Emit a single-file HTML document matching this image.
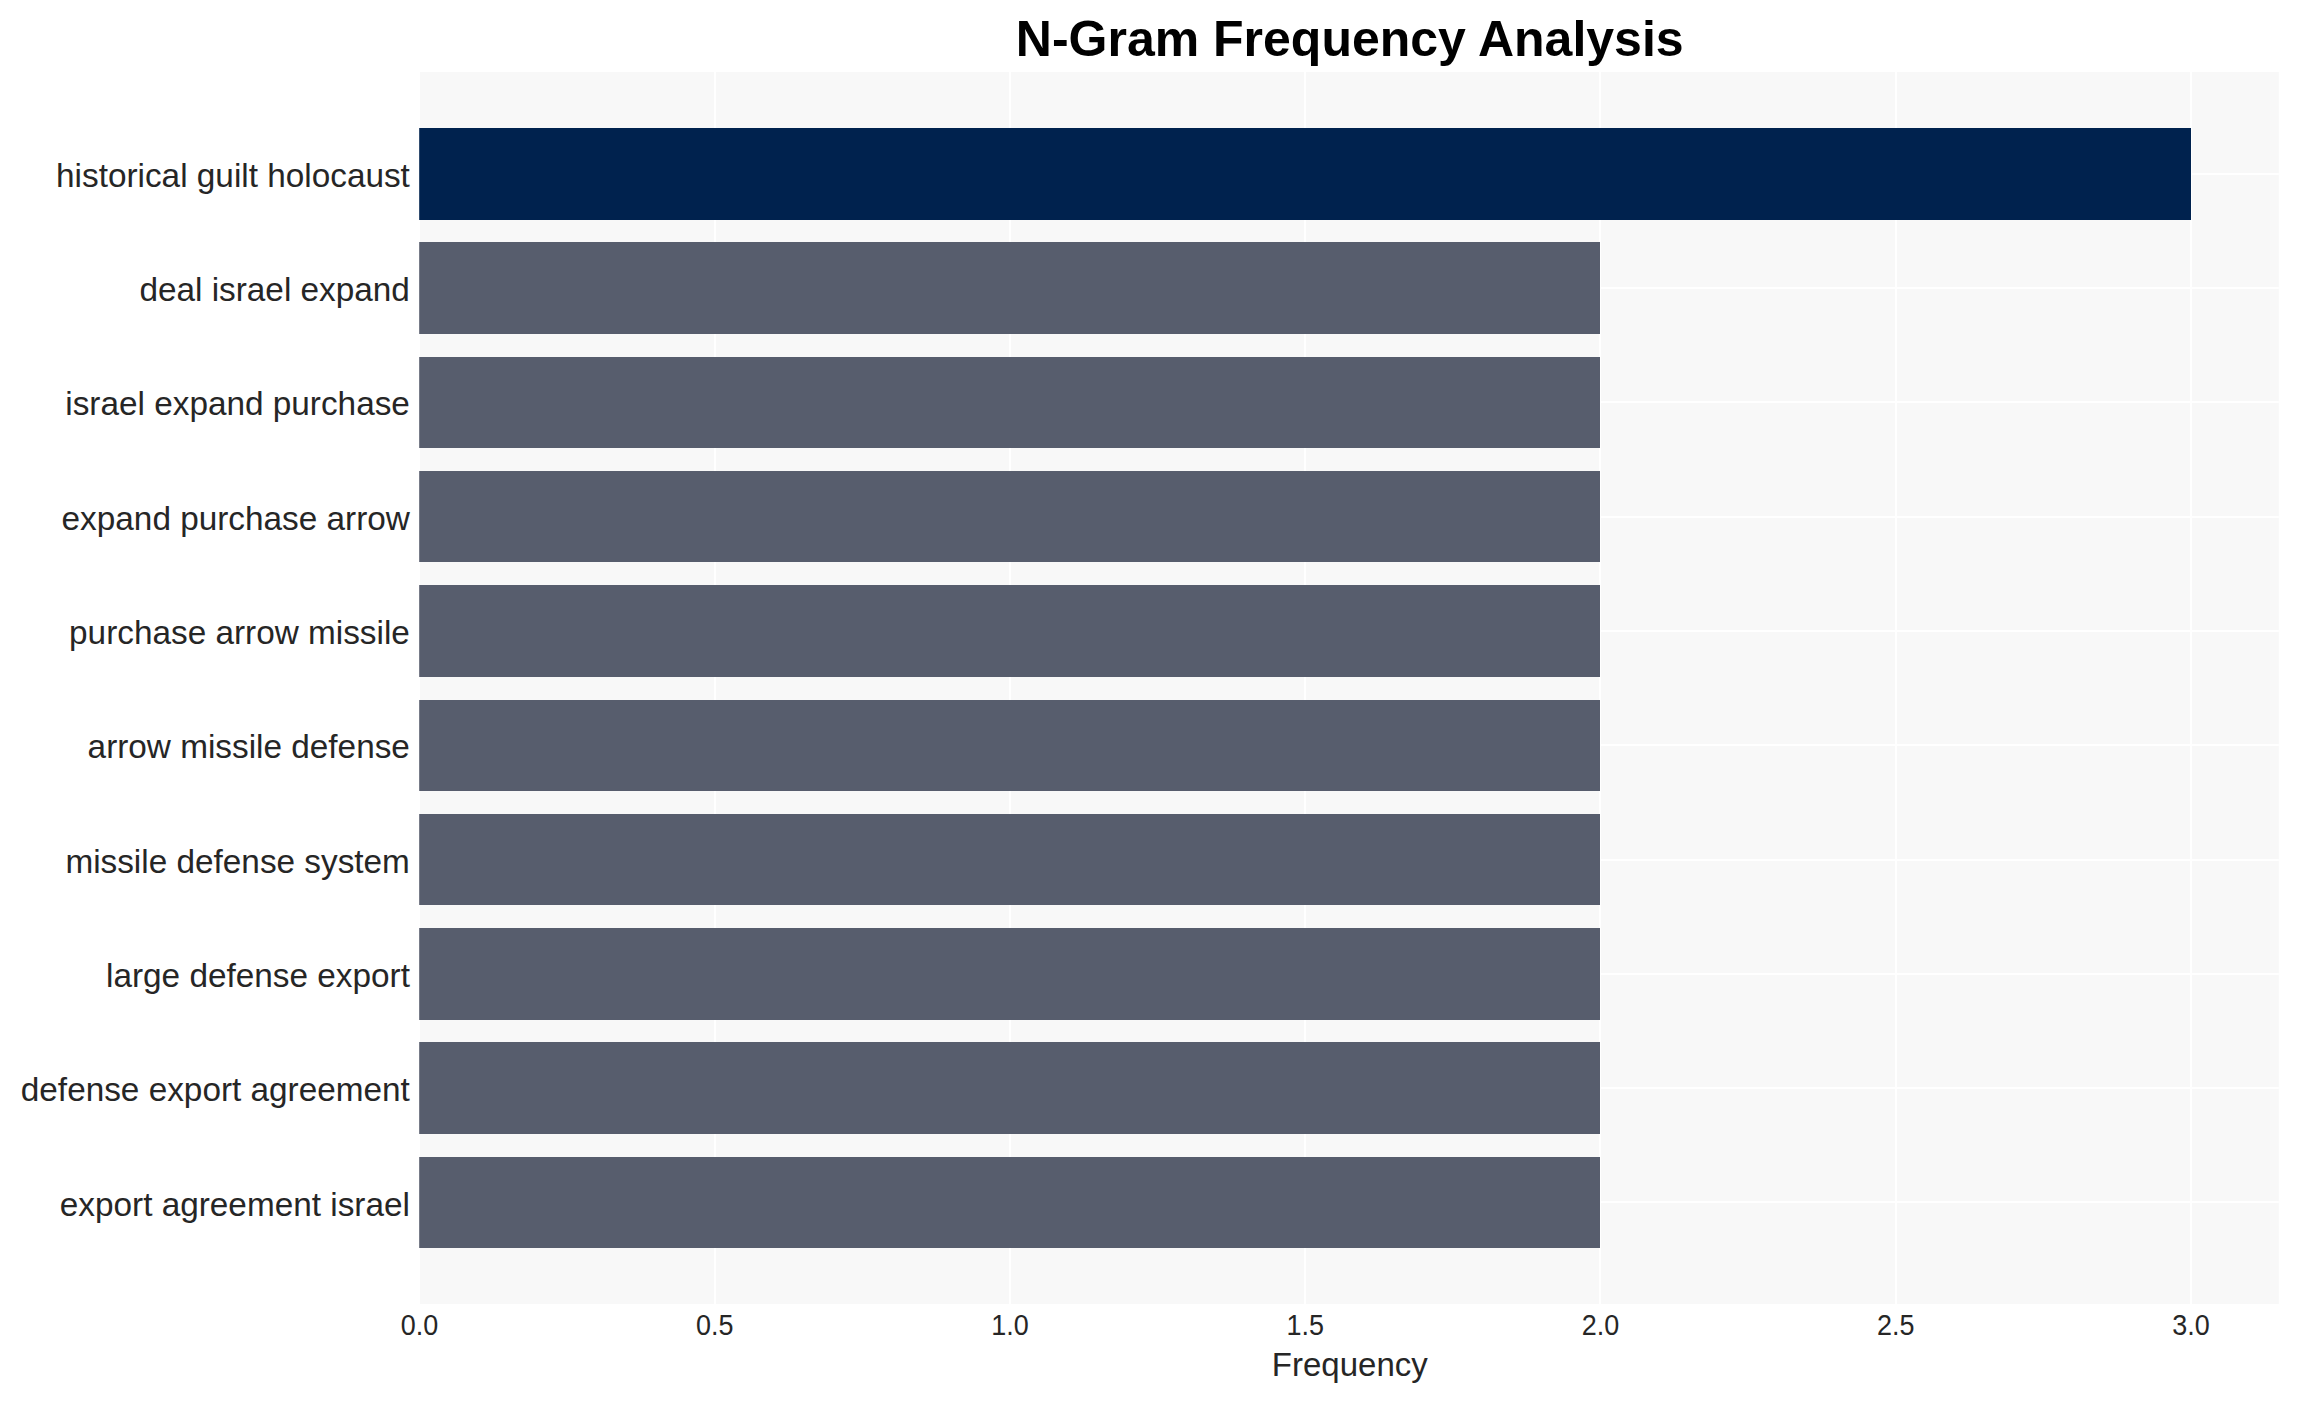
<!DOCTYPE html>
<html lang="en"><head><meta charset="utf-8"><title>N-Gram Frequency Analysis</title>
<style>
html,body{margin:0;padding:0;background:#ffffff;width:2299px;height:1402px;overflow:hidden}
svg{display:block}
text{font-family:"Liberation Sans", sans-serif;}
.yt{font-size:33.33px;fill:#262626;text-anchor:end}
.xt{font-size:27.78px;fill:#262626;text-anchor:middle}
.xl{font-size:33.33px;fill:#262626;text-anchor:middle}
.ti{font-size:50px;font-weight:bold;fill:#000000;text-anchor:middle}
</style></head><body>
<svg width="2299" height="1402" viewBox="0 0 2299 1402">
<rect x="0" y="0" width="2299" height="1402" fill="#ffffff"/>
<rect x="419.0" y="72.0" width="1859.80" height="1232.00" fill="#f8f8f8"/>
<g stroke="#ffffff" stroke-width="2" fill="none">
<line x1="419" y1="72.0" x2="419" y2="1304.0"/>
<line x1="715" y1="72.0" x2="715" y2="1304.0"/>
<line x1="1010" y1="72.0" x2="1010" y2="1304.0"/>
<line x1="1305" y1="72.0" x2="1305" y2="1304.0"/>
<line x1="1600" y1="72.0" x2="1600" y2="1304.0"/>
<line x1="1896" y1="72.0" x2="1896" y2="1304.0"/>
<line x1="2191" y1="72.0" x2="2191" y2="1304.0"/>
<line x1="419.0" y1="174" x2="2278.8" y2="174"/>
<line x1="419.0" y1="288" x2="2278.8" y2="288"/>
<line x1="419.0" y1="402" x2="2278.8" y2="402"/>
<line x1="419.0" y1="517" x2="2278.8" y2="517"/>
<line x1="419.0" y1="631" x2="2278.8" y2="631"/>
<line x1="419.0" y1="745" x2="2278.8" y2="745"/>
<line x1="419.0" y1="860" x2="2278.8" y2="860"/>
<line x1="419.0" y1="974" x2="2278.8" y2="974"/>
<line x1="419.0" y1="1088" x2="2278.8" y2="1088"/>
<line x1="419.0" y1="1202" x2="2278.8" y2="1202"/>
</g>
<rect x="419.2" y="128" width="1771.80" height="92" fill="#00224e"/>
<rect x="419.2" y="242" width="1180.80" height="92" fill="#575d6d"/>
<rect x="419.2" y="357" width="1180.80" height="91" fill="#575d6d"/>
<rect x="419.2" y="471" width="1180.80" height="91" fill="#575d6d"/>
<rect x="419.2" y="585" width="1180.80" height="92" fill="#575d6d"/>
<rect x="419.2" y="700" width="1180.80" height="91" fill="#575d6d"/>
<rect x="419.2" y="814" width="1180.80" height="91" fill="#575d6d"/>
<rect x="419.2" y="928" width="1180.80" height="92" fill="#575d6d"/>
<rect x="419.2" y="1042" width="1180.80" height="92" fill="#575d6d"/>
<rect x="419.2" y="1157" width="1180.80" height="91" fill="#575d6d"/>
<text class="yt" x="409.9" y="187">historical guilt holocaust</text>
<text class="yt" x="409.9" y="301">deal israel expand</text>
<text class="yt" x="409.9" y="415">israel expand purchase</text>
<text class="yt" x="409.9" y="530">expand purchase arrow</text>
<text class="yt" x="409.9" y="644">purchase arrow missile</text>
<text class="yt" x="409.9" y="758">arrow missile defense</text>
<text class="yt" x="409.9" y="873">missile defense system</text>
<text class="yt" x="409.9" y="987">large defense export</text>
<text class="yt" x="409.9" y="1101">defense export agreement</text>
<text class="yt" x="409.9" y="1216">export agreement israel</text>
<text class="xt" transform="translate(419.50,1334.8) scale(0.97,1.04)" x="0" y="0">0.0</text>
<text class="xt" transform="translate(714.75,1334.8) scale(0.97,1.04)" x="0" y="0">0.5</text>
<text class="xt" transform="translate(1010.00,1334.8) scale(0.97,1.04)" x="0" y="0">1.0</text>
<text class="xt" transform="translate(1305.25,1334.8) scale(0.97,1.04)" x="0" y="0">1.5</text>
<text class="xt" transform="translate(1600.50,1334.8) scale(0.97,1.04)" x="0" y="0">2.0</text>
<text class="xt" transform="translate(1895.75,1334.8) scale(0.97,1.04)" x="0" y="0">2.5</text>
<text class="xt" transform="translate(2191.00,1334.8) scale(0.97,1.04)" x="0" y="0">3.0</text>
<text class="xl" transform="translate(1349.80,1375.8) scale(0.99,1)" x="0" y="0">Frequency</text>
<text class="ti" x="1349.70" y="56.2">N-Gram Frequency Analysis</text>
</svg></body></html>
